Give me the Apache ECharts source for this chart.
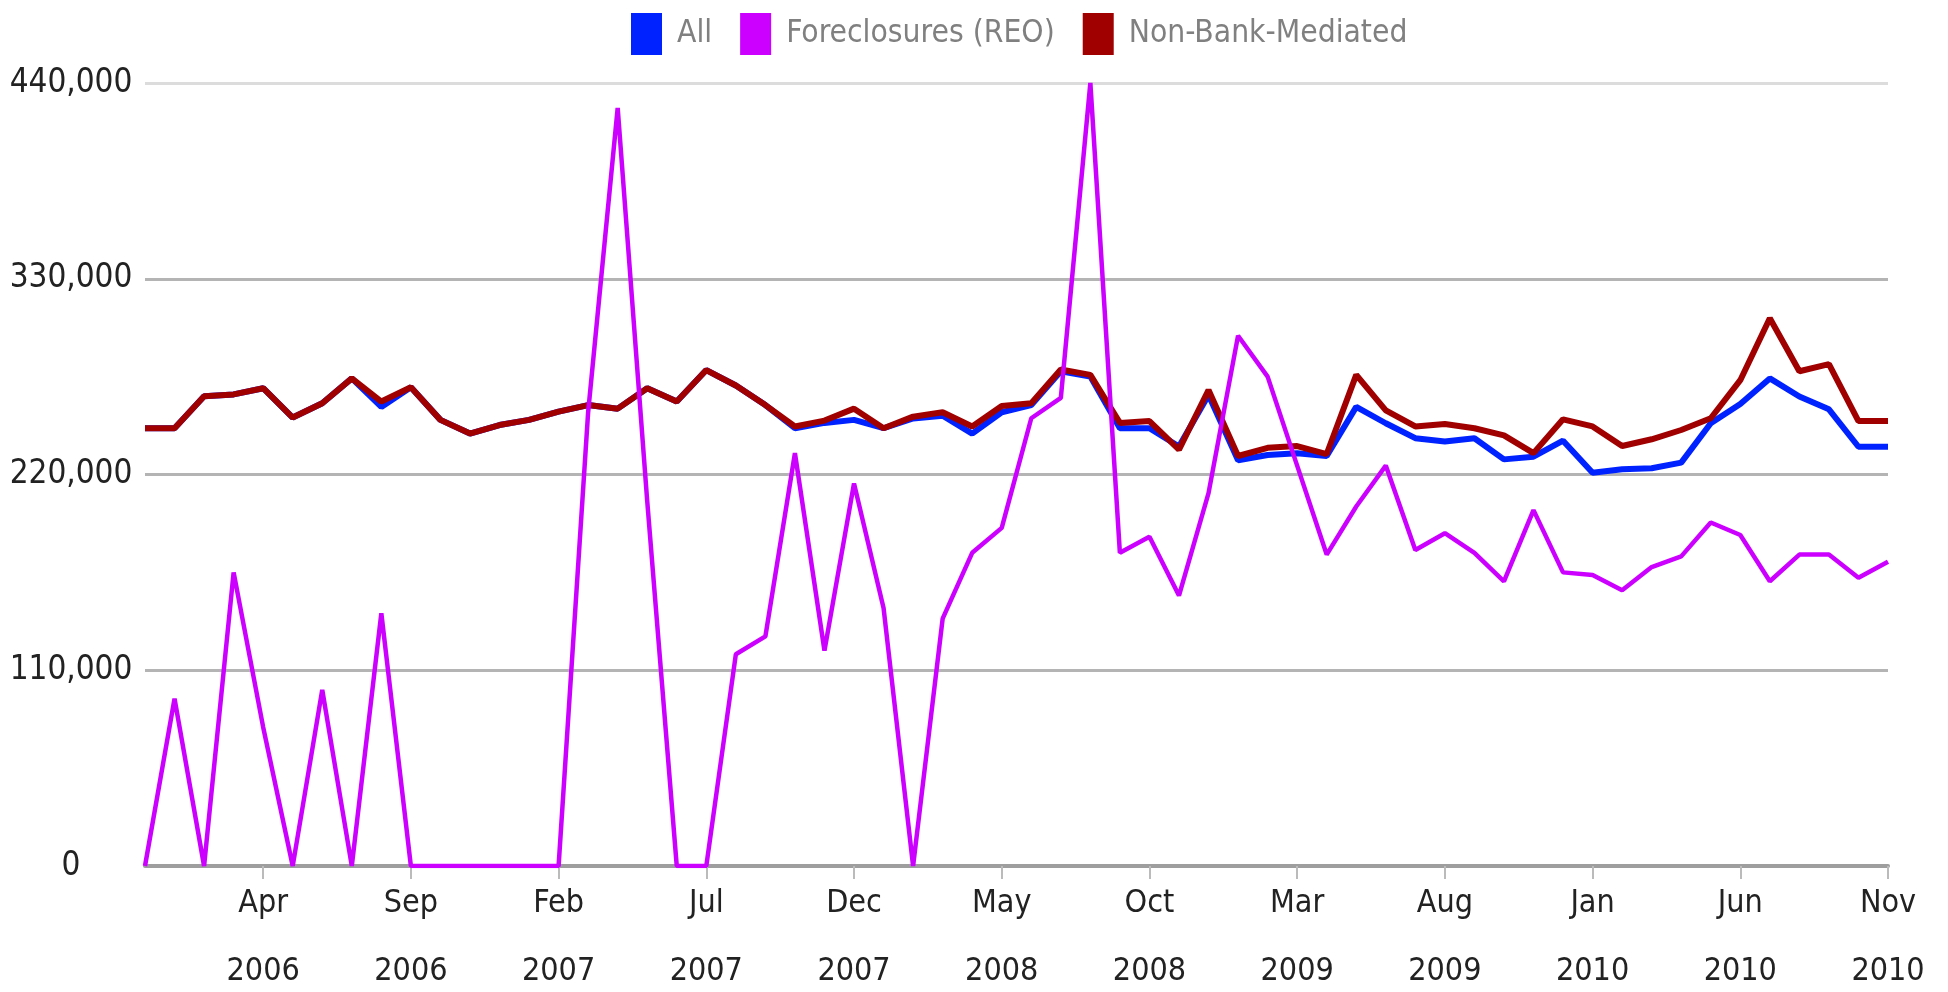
<!DOCTYPE html>
<html>
<head>
<meta charset="utf-8">
<script src="https://cdn.jsdelivr.net/npm/echarts@6/dist/echarts.min.js"></script>
<style>
  html, body { margin: 0; padding: 0; background: #fff; }
  #chart { width: 1948px; height: 992px; }
</style>
</head>
<body>
<div id="chart"></div>
<script>
var months = [
  'Dec 2005',
  'Jan 2006', 'Feb 2006', 'Mar 2006', 'Apr 2006', 'May 2006', 'Jun 2006',
  'Jul 2006', 'Aug 2006', 'Sep 2006', 'Oct 2006', 'Nov 2006', 'Dec 2006',
  'Jan 2007', 'Feb 2007', 'Mar 2007', 'Apr 2007', 'May 2007', 'Jun 2007',
  'Jul 2007', 'Aug 2007', 'Sep 2007', 'Oct 2007', 'Nov 2007', 'Dec 2007',
  'Jan 2008', 'Feb 2008', 'Mar 2008', 'Apr 2008', 'May 2008', 'Jun 2008',
  'Jul 2008', 'Aug 2008', 'Sep 2008', 'Oct 2008', 'Nov 2008', 'Dec 2008',
  'Jan 2009', 'Feb 2009', 'Mar 2009', 'Apr 2009', 'May 2009', 'Jun 2009',
  'Jul 2009', 'Aug 2009', 'Sep 2009', 'Oct 2009', 'Nov 2009', 'Dec 2009',
  'Jan 2010', 'Feb 2010', 'Mar 2010', 'Apr 2010', 'May 2010', 'Jun 2010',
  'Jul 2010', 'Aug 2010', 'Sep 2010', 'Oct 2010', 'Nov 2010'
];

var allSales = [
  246000, 246000, 264000, 265000, 268500, 252000, 260000, 274000, 258000, 269000,
  250700, 243000, 247800, 250700, 255300, 259000, 257000, 268500, 261000, 278700,
  270000, 259000, 246000, 249000, 250700, 246000, 251500, 253000, 243000, 255000,
  259000, 278000, 275000, 246000, 246000, 235700, 264700, 228000, 231000, 232000,
  230400, 258000, 248800, 240400, 238500, 240400, 228500, 230000, 239000, 221000,
  223000, 223500, 226700, 248800, 259600, 274000, 263800, 256600, 235600, 235600
];

var reoSales = [
  0, 94000, 0, 165000, 78000, 0, 99000, 0, 142000, 0,
  0, 0, 0, 0, 0, 255000, 426000, 205000, 0, 0,
  119000, 129000, 232000, 121000, 215000, 145000, 0, 139000, 176000, 190000,
  251600, 263000, 440000, 176000, 185000, 152000, 209500, 298000, 275000, 225000,
  175000, 202000, 225000, 177600, 187000, 176000, 160000, 200000, 165000, 163500,
  155000, 168000, 174000, 193000, 186000, 160000, 175000, 175000, 162000, 171000
];

var nonBankSales = [
  246000, 246000, 264000, 265000, 268500, 252000, 260000, 274000, 261000, 269000,
  250700, 243000, 247800, 250700, 255300, 259000, 257000, 268500, 261000, 278700,
  270000, 259000, 247000, 250300, 257000, 246000, 252500, 255000, 247000, 258500,
  260000, 279000, 276000, 249000, 250000, 234000, 267500, 230400, 235000, 236000,
  231500, 276000, 256000, 247000, 248400, 246000, 242000, 232000, 251000, 247000,
  236000, 239800, 245000, 251600, 273000, 307800, 278000, 282000, 250000, 250000
];

var narrow = "'DejaVu Sans Condensed', 'Liberation Sans Narrow', 'Liberation Sans', sans-serif";

var chart = echarts.init(document.getElementById('chart'));

var option = {
  animation: false,
  backgroundColor: '#fff',
  legend: {
    left: 626,
    top: 8,
    itemWidth: 31,
    itemHeight: 42,
    itemGap: 28,
    icon: 'rect',
    textStyle: {
      fontFamily: narrow,
      fontSize: 31.5,
      color: '#808080',
      padding: [0, 0, 0, 10]
    },
    data: ['All', 'Foreclosures (REO)', 'Non-Bank-Mediated']
  },
  grid: { left: 145, right: 60, top: 83, bottom: 126, outerBoundsMode: 'none' },
  xAxis: {
    type: 'category',
    data: months,
    boundaryGap: false,
    axisLine: { lineStyle: { color: '#9e9e9e', width: 4 } },
    axisTick: {
      interval: function (i) { return i % 5 === 4; },
      length: 13,
      lineStyle: { color: '#bbb', width: 2 }
    },
    axisLabel: {
      interval: function (i) { return i % 5 === 4; },
      formatter: function (v) { return v.replace(' ', '\n'); },
      fontFamily: narrow,
      fontSize: 32,
      lineHeight: 68,
      margin: 4,
      color: '#222'
    },
    splitLine: { show: false }
  },
  yAxis: {
    type: 'value',
    min: 0,
    max: 440000,
    interval: 110000,
    axisLine: { show: false },
    axisTick: { show: false },
    axisLabel: {
      fontFamily: narrow,
      fontSize: 33,
      color: '#222',
      align: 'center',
      margin: 74,
      formatter: function (v) { return v.toLocaleString('en-US'); }
    },
    splitLine: {
      lineStyle: { color: ['#9e9e9e', '#b4b4b4', '#b4b4b4', '#b4b4b4', '#dcdcdc'], width: 3 }
    }
  },
  series: [
    {
      name: 'All',
      type: 'line',
      data: allSales,
      symbol: 'none',
      z: 2,
      itemStyle: { color: '#0022ff' },
      lineStyle: { color: '#0022ff', width: 6 }
    },
    {
      name: 'Foreclosures (REO)',
      type: 'line',
      data: reoSales,
      symbol: 'none',
      z: 4,
      itemStyle: { color: '#cc00ff' },
      lineStyle: { color: '#cc00ff', width: 4.5 }
    },
    {
      name: 'Non-Bank-Mediated',
      type: 'line',
      data: nonBankSales,
      symbol: 'none',
      z: 3,
      itemStyle: { color: '#a00000' },
      lineStyle: { color: '#a00000', width: 6 }
    }
  ]
};

chart.setOption(option);
</script>
</body>
</html>
